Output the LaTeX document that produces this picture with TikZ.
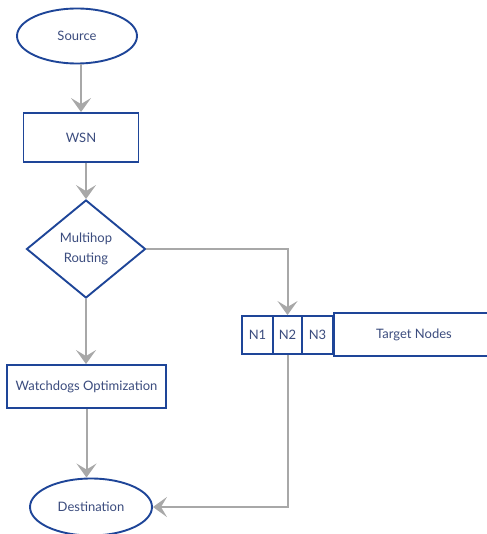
\documentclass[tikz,border=0pt]{standalone}
\usepackage{fontspec}
\setmainfont{Lato}
\usetikzlibrary{shapes.geometric,arrows.meta}
\definecolor{boxblue}{HTML}{1E4598}
\definecolor{txtblue}{HTML}{3B4C7E}
\definecolor{arrgray}{HTML}{A8A8A8}
\begin{document}
\begin{tikzpicture}[x=1pt,y=-1pt,
  every node/.style={font=\fontsize{13}{15}\selectfont, text=txtblue},
  shp/.style={draw=boxblue, line width=1.9pt, fill=white, inner sep=0pt},
  oval/.style={shp, ellipse, minimum width=120pt, minimum height=55pt},
  rbox/.style={shp, rectangle},
  dia/.style={shp, diamond, minimum width=119pt, minimum height=98pt, align=center},
  conn/.style={draw=arrgray, line width=2pt, -{Stealth[length=14pt,width=20pt,inset=6pt]}}]
\useasboundingbox (0,0) rectangle (486,534);
\node[oval] (src) at (77,36) {Source};
\node[rbox, minimum width=115pt, minimum height=49pt] (wsn) at (81,137.5) {WSN};
\node[dia, font=\fontsize{13}{20}\selectfont] (mh) at (86,249) {Multihop\\Routing};
\node[rbox, minimum width=159pt, minimum height=43pt] (wd) at (86.5,386.5) {Watchdogs Optimization};
\node[oval, minimum width=122pt, minimum height=57pt] (dst) at (91,507) {Destination};
\node[rbox, minimum width=31pt, minimum height=38pt] (n1) at (257.5,335) {N1};
\node[rbox, minimum width=29pt, minimum height=38pt] (n2) at (287.5,335) {N2};
\node[rbox, minimum width=31pt, minimum height=38pt] (n3) at (317.5,335) {N3};
\node[rbox, minimum width=160pt, minimum height=43pt] (tn) at (414,334.5) {Target Nodes};
\draw[conn] (src.south -| wsn.north) -- (wsn.north);
\draw[conn] (wsn.south -| mh.north) -- (mh.north);
\draw[conn] (mh.south) -- (wd.north -| mh.south);
\draw[conn] (wd.south) -- (dst.north -| wd.south);
\draw[conn] (mh.east) -| (n2.north);
\draw[conn] (n2.south) |- (dst.east);
\end{tikzpicture}
\end{document}
